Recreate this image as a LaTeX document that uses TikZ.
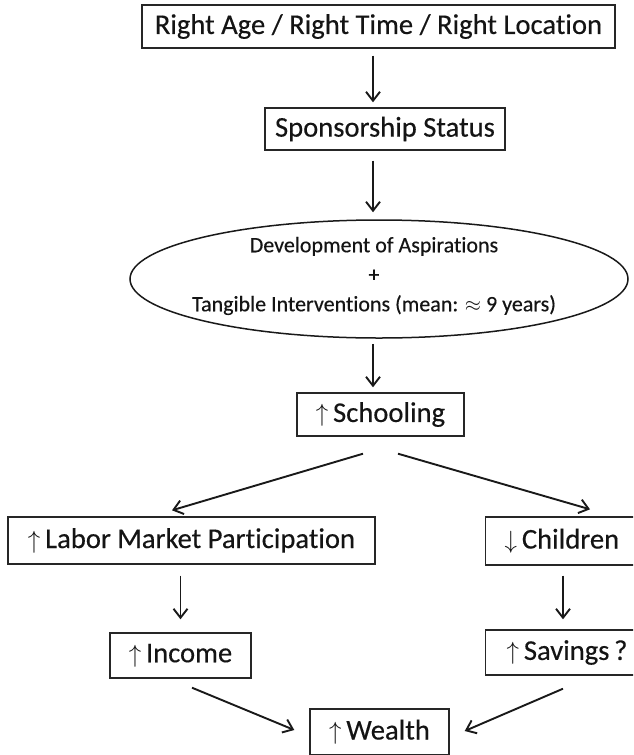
\documentclass[tikz,border=0pt]{standalone}
\usepackage{fontspec}
\setmainfont{Carlito}[Ligatures=NoCommon,FakeBold=0.35]
\usetikzlibrary{arrows.meta,shapes.geometric}
\begin{document}
\begin{tikzpicture}[x=1pt,y=-1pt,
  box/.style={draw=black!85, line width=1.4pt, inner sep=0pt, text=black!92},
  conn/.style={draw=black!90, line width=1.9pt, -{Straight Barb[length=9pt,width=14pt,line width=1.9pt]}},
  big/.style={font=\fontsize{28.6}{32}\selectfont},
  mid/.style={font=\fontsize{22}{29.5}\selectfont}]
\useasboundingbox (0,0) rectangle (633,755);
\clip (0,0) rectangle (633,755);
\node[box,big,minimum width=473pt,minimum height=43pt] (top) at (378.5,26.5) {Right Age / Right Time / Right Location};
\node[box,big,minimum width=240pt,minimum height=42pt] (spon) at (385,129) {Sponsorship Status};
\node[ellipse,draw=black!90,line width=1.5pt,minimum width=498pt,minimum height=118pt,inner sep=0pt] (ell) at (379,279) {};
\node[mid,text=black!92,align=center] (elltxt) at (374,276) {Development of Aspirations\\+\\Tangible Interventions (mean: $\approx$ 9 years)};
\node[box,big,minimum width=167pt,minimum height=43pt] (school) at (380.5,414.5) {$\uparrow$\,Schooling};
\node[box,big,minimum width=367pt,minimum height=47pt] (labor) at (191.5,540.5) {$\uparrow$\,Labor Market Participation};
\node[box,big,anchor=west,minimum height=48pt,text width=130pt,inner xsep=19pt,align=left] (child) at (485,541) {$\downarrow$\,Children};
\node[box,big,minimum width=141pt,minimum height=45pt] (income) at (180.5,655.5) {$\uparrow$\,Income};
\node[box,big,anchor=west,minimum height=45pt,text width=130pt,inner xsep=21pt,align=left] (sav) at (485,652.5) {$\uparrow$\,Savings\,?};
\node[box,big,minimum width=139pt,minimum height=46pt] (wealth) at (379.5,732) {$\uparrow$\,Wealth};
\draw[conn,shorten <=7pt,shorten >=5pt] (top.south -| ell.south) ++(-6,0) coordinate (a1) -- (a1 |- spon.north);
\draw[conn,shorten <=10pt,shorten >=7pt] (a1 |- spon.south) -- (a1 |- ell.north);
\draw[conn,shorten <=5pt,shorten >=5pt] (a1 |- ell.south) -- (a1 |- school.north);
\draw[conn] ([xshift=-17.5pt,yshift=-17pt]school.south) -- ([xshift=-19.5pt,yshift=6pt]labor.north);
\draw[conn] ([xshift=17.5pt,yshift=-17pt]school.south) -- ([xshift=105pt,yshift=7pt]child.north west);
\draw[conn,shorten <=11pt,shorten >=13pt] (income.north |- labor.south) -- (income.north);
\draw[conn,shorten <=10pt,shorten >=10pt] ([xshift=78pt]sav.north west |- child.south) -- ([xshift=78pt]sav.north west);
\draw[conn] ([xshift=11.5pt,yshift=-9pt]income.south) -- ([xshift=-15pt,yshift=2pt]wealth.west);
\draw[conn] ([xshift=78pt,yshift=-13pt]sav.south west) -- ([xshift=15pt,yshift=1pt]wealth.east);
\end{tikzpicture}
\end{document}
